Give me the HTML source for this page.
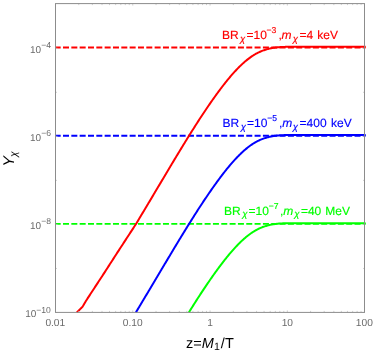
<!DOCTYPE html>
<html><head><meta charset="utf-8"><style>
html,body{margin:0;padding:0;background:#fff;}
svg{display:block;will-change:transform;}
text{font-family:"Liberation Sans",sans-serif;text-rendering:geometricPrecision;}
</style></head><body>
<svg width="374" height="353" viewBox="0 0 374 353">
<rect width="374" height="353" fill="#fff"/>
<g fill="none" stroke-width="1.9" stroke-dasharray="6.0 2.33" stroke-dashoffset="0.83">
<path d="M55.5,47.50 H365.6" stroke="#ff0000"/>
<path d="M55.5,135.70 H365.6" stroke="#0000ff"/>
<path d="M55.5,223.90 H365.6" stroke="#00ff00"/>
</g>
<g fill="none" stroke-width="2.0" stroke-linejoin="round">
<path d="M76.96,312.40 L77.07,312.22 L77.74,311.53 L78.40,310.87 L79.07,310.21 L79.74,309.55 L80.41,308.89 L81.07,308.23 L81.74,307.57 L82.41,306.91 L83.08,305.83 L83.75,304.69 L84.41,303.54 L85.08,302.40 L85.75,301.26 L86.42,300.21 L87.09,299.18 L87.75,298.16 L88.42,297.14 L89.09,296.12 L89.76,295.09 L90.43,294.07 L91.09,293.05 L91.76,292.03 L92.43,291.01 L93.10,289.98 L93.77,288.96 L94.43,287.94 L95.10,286.92 L95.77,285.90 L96.44,284.87 L97.10,283.85 L97.77,282.83 L98.44,281.81 L99.11,280.79 L99.78,279.76 L100.44,278.74 L101.11,277.72 L101.78,276.70 L102.45,275.68 L103.12,274.65 L103.78,273.63 L104.45,272.61 L105.12,271.59 L105.79,270.56 L106.46,269.52 L107.12,268.48 L107.79,267.44 L108.46,266.40 L109.13,265.36 L109.80,264.32 L110.46,263.29 L111.13,262.25 L111.80,261.21 L112.47,260.17 L113.13,259.13 L113.80,258.10 L114.47,257.06 L115.14,256.02 L115.81,254.98 L116.47,253.95 L117.14,252.92 L117.81,251.90 L118.48,250.87 L119.15,249.84 L119.81,248.82 L120.48,247.79 L121.15,246.77 L121.82,245.74 L122.49,244.72 L123.15,243.69 L123.82,242.67 L124.49,241.64 L125.16,240.62 L125.82,239.59 L126.49,238.57 L127.16,237.54 L127.83,236.52 L128.50,235.50 L129.16,234.47 L129.83,233.45 L130.50,232.42 L131.17,231.40 L131.84,230.38 L132.50,229.36 L133.17,228.33 L133.84,227.31 L134.51,226.29 L135.18,225.27 L135.84,224.24 L136.51,223.16 L137.18,222.05 L137.85,220.93 L138.52,219.81 L139.18,218.70 L139.85,217.58 L140.52,216.47 L141.19,215.35 L141.85,214.24 L142.52,213.12 L143.19,212.01 L143.86,210.89 L144.53,209.78 L145.19,208.66 L145.86,207.55 L146.53,206.44 L147.20,205.33 L147.87,204.21 L148.53,203.10 L149.20,201.99 L149.87,200.88 L150.54,199.76 L151.21,198.63 L151.87,197.50 L152.54,196.37 L153.21,195.24 L153.88,194.11 L154.55,192.99 L155.21,191.86 L155.88,190.74 L156.55,189.61 L157.22,188.49 L157.88,187.36 L158.55,186.24 L159.22,185.12 L159.89,184.00 L160.56,182.87 L161.22,181.75 L161.89,180.63 L162.56,179.51 L163.23,178.40 L163.90,177.28 L164.56,176.16 L165.23,175.04 L165.90,173.92 L166.57,172.79 L167.24,171.67 L167.90,170.55 L168.57,169.43 L169.24,168.31 L169.91,167.19 L170.57,166.08 L171.24,164.96 L171.91,163.84 L172.58,162.73 L173.25,161.62 L173.91,160.50 L174.58,159.39 L175.25,158.28 L175.92,157.18 L176.59,156.07 L177.25,154.96 L177.92,153.86 L178.59,152.76 L179.26,151.65 L179.93,150.55 L180.59,149.46 L181.26,148.36 L181.93,147.27 L182.60,146.18 L183.27,145.09 L183.93,144.00 L184.60,142.91 L185.27,141.83 L185.94,140.74 L186.60,139.66 L187.27,138.58 L187.94,137.51 L188.61,136.43 L189.28,135.36 L189.94,134.29 L190.61,133.22 L191.28,132.15 L191.95,131.09 L192.62,130.03 L193.28,128.97 L193.95,127.91 L194.62,126.86 L195.29,125.81 L195.96,124.76 L196.62,123.71 L197.29,122.67 L197.96,121.63 L198.63,120.59 L199.29,119.56 L199.96,118.54 L200.63,117.52 L201.30,116.50 L201.97,115.49 L202.63,114.48 L203.30,113.47 L203.97,112.46 L204.64,111.46 L205.31,110.47 L205.97,109.48 L206.64,108.49 L207.31,107.50 L207.98,106.52 L208.65,105.55 L209.31,104.57 L209.98,103.61 L210.65,102.64 L211.32,101.68 L211.99,100.73 L212.65,99.78 L213.32,98.83 L213.99,97.89 L214.66,96.96 L215.32,96.03 L215.99,95.10 L216.66,94.18 L217.33,93.26 L218.00,92.35 L218.66,91.44 L219.33,90.54 L220.00,89.64 L220.67,88.75 L221.34,87.87 L222.00,86.99 L222.67,86.12 L223.34,85.26 L224.01,84.40 L224.68,83.55 L225.34,82.71 L226.01,81.87 L226.68,81.04 L227.35,80.22 L228.02,79.41 L228.68,78.60 L229.35,77.80 L230.02,77.01 L230.69,76.22 L231.35,75.45 L232.02,74.68 L232.69,73.92 L233.36,73.17 L234.03,72.43 L234.69,71.69 L235.36,70.97 L236.03,70.25 L236.70,69.55 L237.37,68.85 L238.03,68.16 L238.70,67.48 L239.37,66.81 L240.04,66.15 L240.71,65.50 L241.37,64.86 L242.04,64.23 L242.71,63.61 L243.38,63.00 L244.04,62.41 L244.71,61.82 L245.38,61.25 L246.05,60.69 L246.72,60.15 L247.38,59.61 L248.05,59.09 L248.72,58.58 L249.39,58.08 L250.06,57.59 L250.72,57.11 L251.39,56.64 L252.06,56.19 L252.73,55.75 L253.40,55.32 L254.06,54.90 L254.73,54.49 L255.40,54.10 L256.07,53.73 L256.74,53.37 L257.40,53.02 L258.07,52.68 L258.74,52.36 L259.41,52.05 L260.07,51.75 L260.74,51.46 L261.41,51.18 L262.08,50.91 L262.75,50.66 L263.41,50.41 L264.08,50.18 L264.75,49.96 L265.42,49.74 L266.09,49.53 L266.75,49.33 L267.42,49.14 L268.09,48.96 L268.76,48.78 L269.43,48.62 L270.09,48.47 L270.76,48.33 L271.43,48.20 L272.10,48.07 L272.77,47.96 L273.43,47.85 L274.10,47.75 L274.77,47.66 L275.44,47.57 L276.10,47.48 L276.77,47.41 L277.44,47.34 L278.11,47.27 L278.78,47.21 L279.44,47.16 L280.11,47.11 L280.78,47.07 L281.45,47.03 L282.12,46.99 L282.78,46.96 L283.45,46.93 L284.12,46.91 L284.79,46.89 L285.46,46.87 L286.12,46.85 L286.79,46.84 L287.46,46.83 L288.13,46.82 L288.79,46.81 L289.46,46.80 L290.13,46.80 L290.80,46.79 L291.47,46.78 L292.13,46.78 L292.80,46.77 L293.47,46.77 L294.14,46.77 L294.81,46.76 L295.47,46.76 L296.14,46.76 L296.81,46.76 L297.48,46.76 L298.15,46.75 L298.81,46.75 L299.48,46.75 L300.15,46.75 L300.82,46.75 L301.49,46.75 L302.15,46.75 L302.82,46.75 L303.49,46.75 L304.16,46.75 L304.82,46.75 L305.49,46.75 L306.16,46.75 L306.83,46.75 L307.50,46.75 L308.16,46.75 L308.83,46.75 L309.50,46.75 L310.17,46.75 L310.84,46.75 L311.50,46.75 L312.17,46.75 L312.84,46.75 L313.51,46.75 L314.18,46.75 L314.84,46.75 L315.51,46.75 L316.18,46.75 L316.85,46.75 L317.52,46.75 L318.18,46.75 L318.85,46.75 L319.52,46.75 L320.19,46.75 L320.85,46.75 L321.52,46.75 L322.19,46.75 L322.86,46.75 L323.53,46.75 L324.19,46.75 L324.86,46.75 L325.53,46.75 L326.20,46.75 L326.87,46.75 L327.53,46.75 L328.20,46.75 L328.87,46.75 L329.54,46.75 L330.21,46.75 L330.87,46.75 L331.54,46.75 L332.21,46.75 L332.88,46.75 L333.54,46.75 L334.21,46.75 L334.88,46.75 L335.55,46.75 L336.22,46.75 L336.88,46.75 L337.55,46.75 L338.22,46.75 L338.89,46.75 L339.56,46.75 L340.22,46.75 L340.89,46.75 L341.56,46.75 L342.23,46.75 L342.90,46.75 L343.56,46.75 L344.23,46.75 L344.90,46.75 L345.57,46.75 L346.24,46.75 L346.90,46.75 L347.57,46.75 L348.24,46.75 L348.91,46.75 L349.57,46.75 L350.24,46.75 L350.91,46.75 L351.58,46.75 L352.25,46.75 L352.91,46.75 L353.58,46.75 L354.25,46.75 L354.92,46.75 L355.59,46.75 L356.25,46.75 L356.92,46.75 L357.59,46.75 L358.26,46.75 L358.93,46.75 L359.59,46.75 L360.26,46.75 L360.93,46.75 L361.60,46.75 L362.27,46.75 L362.93,46.75 L363.60,46.75 L364.27,46.75 L364.94,46.75 L365.60,46.75" stroke="#ff0000"/>
<path d="M135.87,312.40 L136.51,311.36 L137.18,310.25 L137.85,309.13 L138.52,308.01 L139.18,306.90 L139.85,305.78 L140.52,304.67 L141.19,303.55 L141.85,302.44 L142.52,301.32 L143.19,300.21 L143.86,299.09 L144.53,297.98 L145.19,296.86 L145.86,295.75 L146.53,294.64 L147.20,293.53 L147.87,292.41 L148.53,291.30 L149.20,290.19 L149.87,289.08 L150.54,287.96 L151.21,286.83 L151.87,285.70 L152.54,284.57 L153.21,283.44 L153.88,282.31 L154.55,281.19 L155.21,280.06 L155.88,278.94 L156.55,277.81 L157.22,276.69 L157.88,275.56 L158.55,274.44 L159.22,273.32 L159.89,272.20 L160.56,271.07 L161.22,269.95 L161.89,268.83 L162.56,267.71 L163.23,266.60 L163.90,265.48 L164.56,264.36 L165.23,263.24 L165.90,262.12 L166.57,260.99 L167.24,259.87 L167.90,258.75 L168.57,257.63 L169.24,256.51 L169.91,255.39 L170.57,254.28 L171.24,253.16 L171.91,252.04 L172.58,250.93 L173.25,249.82 L173.91,248.70 L174.58,247.59 L175.25,246.48 L175.92,245.38 L176.59,244.27 L177.25,243.16 L177.92,242.06 L178.59,240.96 L179.26,239.85 L179.93,238.75 L180.59,237.66 L181.26,236.56 L181.93,235.47 L182.60,234.38 L183.27,233.29 L183.93,232.20 L184.60,231.11 L185.27,230.03 L185.94,228.94 L186.60,227.86 L187.27,226.78 L187.94,225.71 L188.61,224.63 L189.28,223.56 L189.94,222.49 L190.61,221.42 L191.28,220.35 L191.95,219.29 L192.62,218.23 L193.28,217.17 L193.95,216.11 L194.62,215.06 L195.29,214.01 L195.96,212.96 L196.62,211.91 L197.29,210.87 L197.96,209.83 L198.63,208.79 L199.29,207.76 L199.96,206.74 L200.63,205.72 L201.30,204.70 L201.97,203.69 L202.63,202.68 L203.30,201.67 L203.97,200.66 L204.64,199.66 L205.31,198.67 L205.97,197.68 L206.64,196.69 L207.31,195.70 L207.98,194.72 L208.65,193.75 L209.31,192.77 L209.98,191.81 L210.65,190.84 L211.32,189.88 L211.99,188.93 L212.65,187.98 L213.32,187.03 L213.99,186.09 L214.66,185.16 L215.32,184.23 L215.99,183.30 L216.66,182.38 L217.33,181.46 L218.00,180.55 L218.66,179.64 L219.33,178.74 L220.00,177.84 L220.67,176.95 L221.34,176.07 L222.00,175.19 L222.67,174.32 L223.34,173.46 L224.01,172.60 L224.68,171.75 L225.34,170.91 L226.01,170.07 L226.68,169.24 L227.35,168.42 L228.02,167.61 L228.68,166.80 L229.35,166.00 L230.02,165.21 L230.69,164.42 L231.35,163.65 L232.02,162.88 L232.69,162.12 L233.36,161.37 L234.03,160.63 L234.69,159.89 L235.36,159.17 L236.03,158.45 L236.70,157.75 L237.37,157.05 L238.03,156.36 L238.70,155.68 L239.37,155.01 L240.04,154.35 L240.71,153.70 L241.37,153.06 L242.04,152.43 L242.71,151.81 L243.38,151.20 L244.04,150.61 L244.71,150.02 L245.38,149.45 L246.05,148.89 L246.72,148.35 L247.38,147.81 L248.05,147.29 L248.72,146.78 L249.39,146.28 L250.06,145.79 L250.72,145.31 L251.39,144.84 L252.06,144.39 L252.73,143.95 L253.40,143.52 L254.06,143.10 L254.73,142.69 L255.40,142.30 L256.07,141.93 L256.74,141.57 L257.40,141.22 L258.07,140.88 L258.74,140.56 L259.41,140.25 L260.07,139.95 L260.74,139.66 L261.41,139.38 L262.08,139.11 L262.75,138.86 L263.41,138.61 L264.08,138.38 L264.75,138.16 L265.42,137.94 L266.09,137.73 L266.75,137.53 L267.42,137.34 L268.09,137.16 L268.76,136.98 L269.43,136.82 L270.09,136.67 L270.76,136.53 L271.43,136.40 L272.10,136.27 L272.77,136.16 L273.43,136.05 L274.10,135.95 L274.77,135.86 L275.44,135.77 L276.10,135.68 L276.77,135.61 L277.44,135.54 L278.11,135.47 L278.78,135.41 L279.44,135.36 L280.11,135.31 L280.78,135.27 L281.45,135.23 L282.12,135.19 L282.78,135.16 L283.45,135.13 L284.12,135.11 L284.79,135.09 L285.46,135.07 L286.12,135.05 L286.79,135.04 L287.46,135.03 L288.13,135.02 L288.79,135.01 L289.46,135.00 L290.13,135.00 L290.80,134.99 L291.47,134.98 L292.13,134.98 L292.80,134.97 L293.47,134.97 L294.14,134.97 L294.81,134.96 L295.47,134.96 L296.14,134.96 L296.81,134.96 L297.48,134.96 L298.15,134.95 L298.81,134.95 L299.48,134.95 L300.15,134.95 L300.82,134.95 L301.49,134.95 L302.15,134.95 L302.82,134.95 L303.49,134.95 L304.16,134.95 L304.82,134.95 L305.49,134.95 L306.16,134.95 L306.83,134.95 L307.50,134.95 L308.16,134.95 L308.83,134.95 L309.50,134.95 L310.17,134.95 L310.84,134.95 L311.50,134.95 L312.17,134.95 L312.84,134.95 L313.51,134.95 L314.18,134.95 L314.84,134.95 L315.51,134.95 L316.18,134.95 L316.85,134.95 L317.52,134.95 L318.18,134.95 L318.85,134.95 L319.52,134.95 L320.19,134.95 L320.85,134.95 L321.52,134.95 L322.19,134.95 L322.86,134.95 L323.53,134.95 L324.19,134.95 L324.86,134.95 L325.53,134.95 L326.20,134.95 L326.87,134.95 L327.53,134.95 L328.20,134.95 L328.87,134.95 L329.54,134.95 L330.21,134.95 L330.87,134.95 L331.54,134.95 L332.21,134.95 L332.88,134.95 L333.54,134.95 L334.21,134.95 L334.88,134.95 L335.55,134.95 L336.22,134.95 L336.88,134.95 L337.55,134.95 L338.22,134.95 L338.89,134.95 L339.56,134.95 L340.22,134.95 L340.89,134.95 L341.56,134.95 L342.23,134.95 L342.90,134.95 L343.56,134.95 L344.23,134.95 L344.90,134.95 L345.57,134.95 L346.24,134.95 L346.90,134.95 L347.57,134.95 L348.24,134.95 L348.91,134.95 L349.57,134.95 L350.24,134.95 L350.91,134.95 L351.58,134.95 L352.25,134.95 L352.91,134.95 L353.58,134.95 L354.25,134.95 L354.92,134.95 L355.59,134.95 L356.25,134.95 L356.92,134.95 L357.59,134.95 L358.26,134.95 L358.93,134.95 L359.59,134.95 L360.26,134.95 L360.93,134.95 L361.60,134.95 L362.27,134.95 L362.93,134.95 L363.60,134.95 L364.27,134.95 L364.94,134.95 L365.60,134.95" stroke="#0000ff"/>
<path d="M188.88,312.40 L189.28,311.76 L189.94,310.69 L190.61,309.62 L191.28,308.55 L191.95,307.49 L192.62,306.43 L193.28,305.37 L193.95,304.31 L194.62,303.26 L195.29,302.21 L195.96,301.16 L196.62,300.11 L197.29,299.07 L197.96,298.03 L198.63,296.99 L199.29,295.96 L199.96,294.94 L200.63,293.92 L201.30,292.90 L201.97,291.89 L202.63,290.88 L203.30,289.87 L203.97,288.86 L204.64,287.86 L205.31,286.87 L205.97,285.88 L206.64,284.89 L207.31,283.90 L207.98,282.92 L208.65,281.95 L209.31,280.97 L209.98,280.01 L210.65,279.04 L211.32,278.08 L211.99,277.13 L212.65,276.18 L213.32,275.23 L213.99,274.29 L214.66,273.36 L215.32,272.43 L215.99,271.50 L216.66,270.58 L217.33,269.66 L218.00,268.75 L218.66,267.84 L219.33,266.94 L220.00,266.04 L220.67,265.15 L221.34,264.27 L222.00,263.39 L222.67,262.52 L223.34,261.66 L224.01,260.80 L224.68,259.95 L225.34,259.11 L226.01,258.27 L226.68,257.44 L227.35,256.62 L228.02,255.81 L228.68,255.00 L229.35,254.20 L230.02,253.41 L230.69,252.62 L231.35,251.85 L232.02,251.08 L232.69,250.32 L233.36,249.57 L234.03,248.83 L234.69,248.09 L235.36,247.37 L236.03,246.65 L236.70,245.95 L237.37,245.25 L238.03,244.56 L238.70,243.88 L239.37,243.21 L240.04,242.55 L240.71,241.90 L241.37,241.26 L242.04,240.63 L242.71,240.01 L243.38,239.40 L244.04,238.81 L244.71,238.22 L245.38,237.65 L246.05,237.09 L246.72,236.55 L247.38,236.01 L248.05,235.49 L248.72,234.98 L249.39,234.48 L250.06,233.99 L250.72,233.51 L251.39,233.04 L252.06,232.59 L252.73,232.15 L253.40,231.72 L254.06,231.30 L254.73,230.89 L255.40,230.50 L256.07,230.13 L256.74,229.77 L257.40,229.42 L258.07,229.08 L258.74,228.76 L259.41,228.45 L260.07,228.15 L260.74,227.86 L261.41,227.58 L262.08,227.31 L262.75,227.06 L263.41,226.81 L264.08,226.58 L264.75,226.36 L265.42,226.14 L266.09,225.93 L266.75,225.73 L267.42,225.54 L268.09,225.36 L268.76,225.18 L269.43,225.02 L270.09,224.87 L270.76,224.73 L271.43,224.60 L272.10,224.47 L272.77,224.36 L273.43,224.25 L274.10,224.15 L274.77,224.06 L275.44,223.97 L276.10,223.88 L276.77,223.81 L277.44,223.74 L278.11,223.67 L278.78,223.61 L279.44,223.56 L280.11,223.51 L280.78,223.47 L281.45,223.43 L282.12,223.39 L282.78,223.36 L283.45,223.33 L284.12,223.31 L284.79,223.29 L285.46,223.27 L286.12,223.25 L286.79,223.24 L287.46,223.23 L288.13,223.22 L288.79,223.21 L289.46,223.20 L290.13,223.20 L290.80,223.19 L291.47,223.18 L292.13,223.18 L292.80,223.17 L293.47,223.17 L294.14,223.17 L294.81,223.16 L295.47,223.16 L296.14,223.16 L296.81,223.16 L297.48,223.16 L298.15,223.15 L298.81,223.15 L299.48,223.15 L300.15,223.15 L300.82,223.15 L301.49,223.15 L302.15,223.15 L302.82,223.15 L303.49,223.15 L304.16,223.15 L304.82,223.15 L305.49,223.15 L306.16,223.15 L306.83,223.15 L307.50,223.15 L308.16,223.15 L308.83,223.15 L309.50,223.15 L310.17,223.15 L310.84,223.15 L311.50,223.15 L312.17,223.15 L312.84,223.15 L313.51,223.15 L314.18,223.15 L314.84,223.15 L315.51,223.15 L316.18,223.15 L316.85,223.15 L317.52,223.15 L318.18,223.15 L318.85,223.15 L319.52,223.15 L320.19,223.15 L320.85,223.15 L321.52,223.15 L322.19,223.15 L322.86,223.15 L323.53,223.15 L324.19,223.15 L324.86,223.15 L325.53,223.15 L326.20,223.15 L326.87,223.15 L327.53,223.15 L328.20,223.15 L328.87,223.15 L329.54,223.15 L330.21,223.15 L330.87,223.15 L331.54,223.15 L332.21,223.15 L332.88,223.15 L333.54,223.15 L334.21,223.15 L334.88,223.15 L335.55,223.15 L336.22,223.15 L336.88,223.15 L337.55,223.15 L338.22,223.15 L338.89,223.15 L339.56,223.15 L340.22,223.15 L340.89,223.15 L341.56,223.15 L342.23,223.15 L342.90,223.15 L343.56,223.15 L344.23,223.15 L344.90,223.15 L345.57,223.15 L346.24,223.15 L346.90,223.15 L347.57,223.15 L348.24,223.15 L348.91,223.15 L349.57,223.15 L350.24,223.15 L350.91,223.15 L351.58,223.15 L352.25,223.15 L352.91,223.15 L353.58,223.15 L354.25,223.15 L354.92,223.15 L355.59,223.15 L356.25,223.15 L356.92,223.15 L357.59,223.15 L358.26,223.15 L358.93,223.15 L359.59,223.15 L360.26,223.15 L360.93,223.15 L361.60,223.15 L362.27,223.15 L362.93,223.15 L363.60,223.15 L364.27,223.15 L364.94,223.15 L365.60,223.15" stroke="#00ff00"/>
</g>
<g stroke="#c4c4c4" stroke-width="0.8" fill="none">
<path d="M55.50,312.4 v-2.0"/>
<path d="M55.50,3.6 v2.0"/>
<path d="M78.76,312.4 v-1.5"/>
<path d="M78.76,3.6 v1.5"/>
<path d="M92.37,312.4 v-1.5"/>
<path d="M92.37,3.6 v1.5"/>
<path d="M102.02,312.4 v-1.5"/>
<path d="M102.02,3.6 v1.5"/>
<path d="M109.51,312.4 v-1.5"/>
<path d="M109.51,3.6 v1.5"/>
<path d="M115.63,312.4 v-1.5"/>
<path d="M115.63,3.6 v1.5"/>
<path d="M120.80,312.4 v-1.5"/>
<path d="M120.80,3.6 v1.5"/>
<path d="M125.29,312.4 v-1.5"/>
<path d="M125.29,3.6 v1.5"/>
<path d="M129.24,312.4 v-1.5"/>
<path d="M129.24,3.6 v1.5"/>
<path d="M132.78,312.4 v-2.0"/>
<path d="M132.78,3.6 v2.0"/>
<path d="M156.04,312.4 v-1.5"/>
<path d="M156.04,3.6 v1.5"/>
<path d="M169.64,312.4 v-1.5"/>
<path d="M169.64,3.6 v1.5"/>
<path d="M179.30,312.4 v-1.5"/>
<path d="M179.30,3.6 v1.5"/>
<path d="M186.79,312.4 v-1.5"/>
<path d="M186.79,3.6 v1.5"/>
<path d="M192.91,312.4 v-1.5"/>
<path d="M192.91,3.6 v1.5"/>
<path d="M198.08,312.4 v-1.5"/>
<path d="M198.08,3.6 v1.5"/>
<path d="M202.56,312.4 v-1.5"/>
<path d="M202.56,3.6 v1.5"/>
<path d="M206.51,312.4 v-1.5"/>
<path d="M206.51,3.6 v1.5"/>
<path d="M210.05,312.4 v-2.0"/>
<path d="M210.05,3.6 v2.0"/>
<path d="M233.31,312.4 v-1.5"/>
<path d="M233.31,3.6 v1.5"/>
<path d="M246.92,312.4 v-1.5"/>
<path d="M246.92,3.6 v1.5"/>
<path d="M256.57,312.4 v-1.5"/>
<path d="M256.57,3.6 v1.5"/>
<path d="M264.06,312.4 v-1.5"/>
<path d="M264.06,3.6 v1.5"/>
<path d="M270.18,312.4 v-1.5"/>
<path d="M270.18,3.6 v1.5"/>
<path d="M275.35,312.4 v-1.5"/>
<path d="M275.35,3.6 v1.5"/>
<path d="M279.84,312.4 v-1.5"/>
<path d="M279.84,3.6 v1.5"/>
<path d="M283.79,312.4 v-1.5"/>
<path d="M283.79,3.6 v1.5"/>
<path d="M287.33,312.4 v-2.0"/>
<path d="M287.33,3.6 v2.0"/>
<path d="M310.59,312.4 v-1.5"/>
<path d="M310.59,3.6 v1.5"/>
<path d="M324.19,312.4 v-1.5"/>
<path d="M324.19,3.6 v1.5"/>
<path d="M333.85,312.4 v-1.5"/>
<path d="M333.85,3.6 v1.5"/>
<path d="M341.34,312.4 v-1.5"/>
<path d="M341.34,3.6 v1.5"/>
<path d="M347.46,312.4 v-1.5"/>
<path d="M347.46,3.6 v1.5"/>
<path d="M352.63,312.4 v-1.5"/>
<path d="M352.63,3.6 v1.5"/>
<path d="M357.11,312.4 v-1.5"/>
<path d="M357.11,3.6 v1.5"/>
<path d="M361.06,312.4 v-1.5"/>
<path d="M361.06,3.6 v1.5"/>
<path d="M55.5,312.50 h2.0"/>
<path d="M364.5,312.50 h-2.0"/>
<path d="M55.5,268.46 h1.5"/>
<path d="M364.5,268.46 h-1.5"/>
<path d="M55.5,224.42 h2.0"/>
<path d="M364.5,224.42 h-2.0"/>
<path d="M55.5,180.38 h1.5"/>
<path d="M364.5,180.38 h-1.5"/>
<path d="M55.5,136.34 h2.0"/>
<path d="M364.5,136.34 h-2.0"/>
<path d="M55.5,92.30 h1.5"/>
<path d="M364.5,92.30 h-1.5"/>
<path d="M55.5,48.26 h2.0"/>
<path d="M364.5,48.26 h-2.0"/>
</g>
<rect x="55.5" y="3.6" width="309.00" height="308.80" fill="none" stroke="#8c8c8c" stroke-width="1"/>
<g fill="#6a6a6a" font-size="10.0">
<text x="30.0" y="52.5">10<tspan font-size="8.6" dy="-4.3">−4</tspan></text>
<text x="30.0" y="140.7">10<tspan font-size="8.6" dy="-4.3">−6</tspan></text>
<text x="30.0" y="228.7">10<tspan font-size="8.6" dy="-4.3">−8</tspan></text>
<text x="25.2" y="316.8">10<tspan font-size="8.6" dy="-4.3">−10</tspan></text>
<g text-anchor="middle" font-size="10.2">
<text x="55.3" y="326.2">0.01</text>
<text x="132.7" y="326.2">0.10</text>
<text x="210.2" y="326.2">1</text>
<text x="287.3" y="326.2">10</text>
<text x="364.3" y="326.2">100</text>
</g>
</g>
<g font-size="14.5" fill="#000">
<text x="185.9" y="347.7">z=</text>
<text x="201.7" y="347.7" font-style="italic">M</text>
<text x="213.9" y="350.4" font-size="10.6">1</text>
<text x="220.8" y="347.7">/</text>
<text x="224.9" y="347.7">T</text>
</g>
<g transform="translate(14.0,166.6) rotate(-90)"><text x="0" y="0" font-size="15.5" fill="#000" font-style="italic">Y<tspan font-size="10.5" dy="3.1" dx="-0.7">χ</tspan></text></g>
<g fill="#ff0000" stroke="#ff0000" stroke-width="0.15"><text x="221.90" y="38.55" font-size="12">BR</text><text x="240.05" y="41.50" font-size="9.6" font-style="italic">χ</text><text x="246.50" y="38.55" font-size="12">=10</text><text x="266.60" y="32.95" font-size="8.6">−3</text><text x="278.40" y="38.55" font-size="12">,</text><text x="281.60" y="38.55" font-size="12" font-style="italic">m</text><text x="292.70" y="41.50" font-size="9.6" font-style="italic">χ</text><text x="299.50" y="38.55" font-size="12">=4</text><text x="317.30" y="38.55" font-size="12">keV</text></g>
<g fill="#0000ff" stroke="#0000ff" stroke-width="0.15"><text x="222.50" y="126.60" font-size="12">BR</text><text x="240.65" y="129.55" font-size="9.6" font-style="italic">χ</text><text x="247.10" y="126.60" font-size="12">=10</text><text x="267.20" y="121.00" font-size="8.6">−5</text><text x="279.00" y="126.60" font-size="12">,</text><text x="282.20" y="126.60" font-size="12" font-style="italic">m</text><text x="292.80" y="129.55" font-size="9.6" font-style="italic">χ</text><text x="299.60" y="126.60" font-size="12">=400</text><text x="331.00" y="126.60" font-size="12">keV</text></g>
<g fill="#00ff00" stroke="#00ff00" stroke-width="0.15"><text x="224.00" y="214.50" font-size="12">BR</text><text x="242.15" y="217.45" font-size="9.6" font-style="italic">χ</text><text x="248.60" y="214.50" font-size="12">=10</text><text x="268.70" y="208.90" font-size="8.6">−7</text><text x="280.00" y="214.50" font-size="12">,</text><text x="283.20" y="214.50" font-size="12" font-style="italic">m</text><text x="294.15" y="217.45" font-size="9.6" font-style="italic">χ</text><text x="300.95" y="214.50" font-size="12">=40</text><text x="325.30" y="214.50" font-size="12">MeV</text></g>
</svg>
</body></html>
